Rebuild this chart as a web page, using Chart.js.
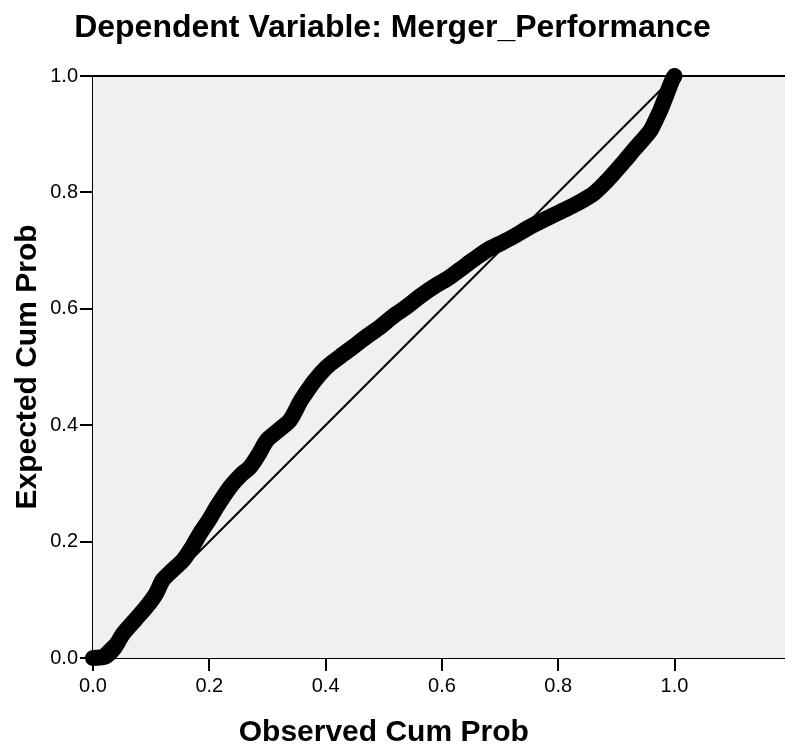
<!DOCTYPE html>
<html>
<head>
<meta charset="utf-8">
<script src="https://cdn.jsdelivr.net/npm/chart.js@4/dist/chart.umd.min.js"></script>
<style>
  html, body { margin: 0; padding: 0; background: #fff; overflow: hidden; }
  #wrap { position: relative; width: 785px; height: 745px; }
</style>
</head>
<body>
<div id="wrap"><canvas id="c"></canvas></div>
<script>
// ---- Data ----
const chartTitle = 'Dependent Variable: Merger_Performance';
const xAxisTitle = 'Observed Cum Prob';
const yAxisTitle = 'Expected Cum Prob';

const observedCumProb = [0, 0.02, 0.035, 0.052, 0.072, 0.092, 0.108, 0.120, 0.138, 0.155, 0.170, 0.184, 0.200, 0.213, 0.236, 0.255, 0.270, 0.285, 0.299, 0.320, 0.339, 0.356, 0.361, 0.380, 0.402, 0.425, 0.448, 0.470, 0.494, 0.517, 0.540, 0.563, 0.586, 0.610, 0.632, 0.655, 0.678, 0.700, 0.723, 0.745, 0.764, 0.790, 0.815, 0.840, 0.861, 0.882, 0.901, 0.915, 0.930, 0.945, 0.959, 0.968, 0.976, 0.987, 0.996, 1.0];
const expectedCumProb = [0, 0.002, 0.015, 0.042, 0.065, 0.088, 0.110, 0.134, 0.152, 0.168, 0.190, 0.214, 0.238, 0.260, 0.294, 0.315, 0.328, 0.350, 0.374, 0.392, 0.409, 0.440, 0.448, 0.475, 0.500, 0.518, 0.535, 0.552, 0.569, 0.588, 0.604, 0.622, 0.638, 0.652, 0.668, 0.685, 0.701, 0.712, 0.724, 0.737, 0.747, 0.760, 0.772, 0.785, 0.798, 0.818, 0.839, 0.855, 0.873, 0.890, 0.907, 0.925, 0.942, 0.970, 0.993, 1.0];

const refLineX = [0, 1];
const refLineY = [0, 1];

const xTickValues = [0, 0.2, 0.4, 0.6, 0.8, 1.0];
const yTickValues = [0, 0.2, 0.4, 0.6, 0.8, 1.0];
const xTickLabels = ['0.0', '0.2', '0.4', '0.6', '0.8', '1.0'];
const yTickLabels = ['0.0', '0.2', '0.4', '0.6', '0.8', '1.0'];

// ---- Build datasets ----
const curvePoints = observedCumProb.map((x, i) => ({ x: x, y: expectedCumProb[i] }));
const refPoints = refLineX.map((x, i) => ({ x: x, y: refLineY[i] }));

const FONT = "'Liberation Sans', Arial, Helvetica, sans-serif";

const framePlugin = {
  id: 'frame',
  beforeDatasetsDraw(chart) {
    const { ctx, chartArea } = chart;
    ctx.save();
    ctx.fillStyle = '#f0f0f0';
    ctx.fillRect(chartArea.left, chartArea.top, chart.width - chartArea.left, chartArea.bottom - chartArea.top);
    ctx.strokeStyle = '#000';
    ctx.lineWidth = 2;
    ctx.beginPath();
    ctx.moveTo(chartArea.left, chartArea.top);
    ctx.lineTo(chart.width, chartArea.top);
    ctx.stroke();
    ctx.restore();
  }
};

const xTitlePlugin = {
  id: 'xTitle',
  afterDraw(chart) {
    const { ctx } = chart;
    const xs = chart.scales.x;
    const cx = (xs.getPixelForValue(0) + xs.getPixelForValue(1)) / 2;
    ctx.save();
    ctx.fillStyle = '#000';
    ctx.font = 'bold 30px ' + FONT;
    ctx.textAlign = 'center';
    ctx.textBaseline = 'middle';
    ctx.fillText(xAxisTitle, cx, 733);
    ctx.restore();
  }
};

new Chart(document.getElementById('c'), {
  type: 'line',
  data: {
    datasets: [
      {
        label: 'Reference',
        data: refPoints,
        borderColor: '#000',
        borderWidth: 2,
        pointRadius: 0,
        fill: false,
        order: 2
      },
      {
        label: 'P-P',
        data: curvePoints,
        borderColor: '#000',
        borderWidth: 16,
        borderCapStyle: 'round',
        borderJoinStyle: 'round',
        pointRadius: 0,
        tension: 0.3,
        fill: false,
        clip: false,
        order: 1
      }
    ]
  },
  options: {
    responsive: true,
    maintainAspectRatio: false,
    animation: false,
    layout: { padding: { left: 0, right: 0, top: 0, bottom: 0 } },
    plugins: {
      legend: { display: false },
      tooltip: { enabled: false },
      title: {
        display: true,
        text: chartTitle,
        color: '#000',
        align: 'center',
        font: { family: FONT, size: 32, weight: 'bold', lineHeight: 1.2 },
        padding: { top: 9, bottom: 28.6 }
      }
    },
    scales: {
      x: {
        type: 'linear',
        min: 0,
        max: 1.19,
        afterFit(s) { s.height = 87; },
        afterBuildTicks(s) { s.ticks = xTickValues.map(v => ({ value: v })); },
        ticks: {
          color: '#000',
          font: { family: FONT, size: 20 },
          padding: 3,
          maxRotation: 0,
          autoSkip: false,
          callback: (v) => xTickLabels[xTickValues.indexOf(v)]
        },
        grid: { drawOnChartArea: false, drawTicks: true, tickLength: 13, color: '#000', lineWidth: 2 },
        border: { display: true, color: '#000', width: 2 }
      },
      y: {
        type: 'linear',
        min: 0,
        max: 1,
        afterFit(s) { s.width = 93; },
        afterBuildTicks(s) { s.ticks = yTickValues.map(v => ({ value: v })); },
        ticks: {
          color: '#000',
          font: { family: FONT, size: 20 },
          padding: 2,
          autoSkip: false,
          callback: (v) => yTickLabels[yTickValues.indexOf(v)]
        },
        grid: { drawOnChartArea: false, drawTicks: true, tickLength: 13, color: '#000', lineWidth: 2 },
        border: { display: true, color: '#000', width: 2 },
        title: {
          display: true,
          text: yAxisTitle,
          color: '#000',
          font: { family: FONT, size: 30, weight: 'bold', lineHeight: 1.2 },
          padding: { top: 10, bottom: 0 }
        }
      }
    }
  },
  plugins: [framePlugin, xTitlePlugin]
});
</script>
</body>
</html>
